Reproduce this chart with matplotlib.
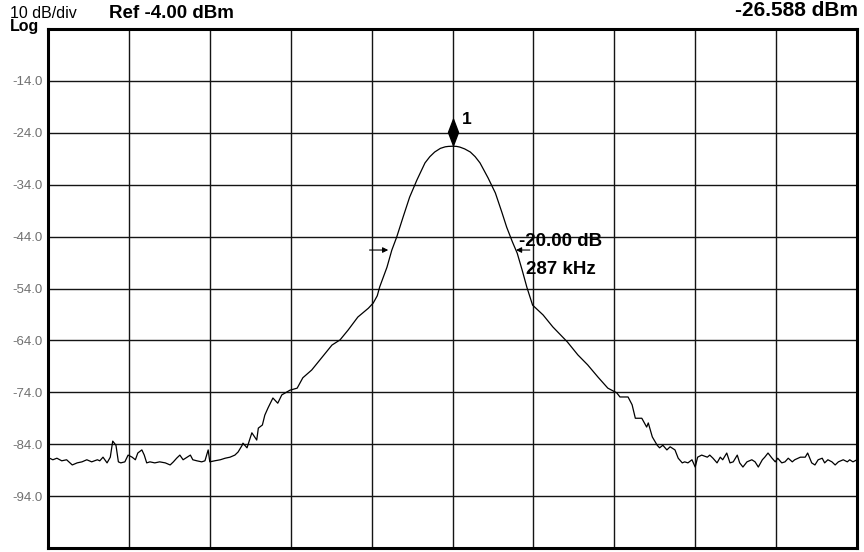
import matplotlib
matplotlib.use("Agg")
import matplotlib.pyplot as plt
import numpy as np

plt.rcParams['font.family'] = ['Liberation Sans', 'DejaVu Sans']

# trace, x in divisions (0..10), y in dBm
freq_div = [
    0.00, 0.02, 0.06, 0.11, 0.17, 0.23, 0.30, 0.36, 0.42, 0.48, 0.54, 0.61, 0.64, 0.68,
    0.73, 0.77, 0.80, 0.84, 0.87, 0.90, 0.95, 0.99, 1.04, 1.08, 1.11, 1.16, 1.19, 1.22,
    1.26, 1.32, 1.38, 1.45, 1.51, 1.55, 1.59, 1.63, 1.67, 1.72, 1.76, 1.79, 1.84, 1.90,
    1.94, 1.98, 2.00, 2.06, 2.13, 2.19, 2.25, 2.31, 2.35, 2.40, 2.41, 2.46, 2.52, 2.58,
    2.60, 2.65, 2.68, 2.72, 2.78, 2.84, 2.89, 2.99, 3.08, 3.15, 3.26, 3.39, 3.51, 3.61,
    3.71, 3.83, 3.96, 4.02, 4.07, 4.10, 4.19, 4.25, 4.31, 4.39, 4.47, 4.56, 4.66, 4.72,
    4.78, 4.85, 4.91, 4.95, 5.00, 5.05, 5.09, 5.15, 5.22, 5.28, 5.34, 5.44, 5.53, 5.61,
    5.67, 5.74, 5.80, 5.86, 5.92, 5.99,
    6.12, 6.24, 6.42, 6.55, 6.67, 6.80, 6.92, 7.03, 7.07, 7.17, 7.22, 7.26, 7.34, 7.40,
    7.42, 7.47, 7.53, 7.56, 7.60, 7.65, 7.69, 7.75, 7.79, 7.84, 7.87, 7.91, 7.96, 8.00,
    8.03, 8.08, 8.15, 8.18, 8.22, 8.27, 8.31, 8.34, 8.39, 8.43, 8.47, 8.52, 8.55, 8.59,
    8.64, 8.70, 8.74, 8.78, 8.83, 8.86, 8.90, 8.95, 8.99, 9.02, 9.07, 9.11, 9.15, 9.20,
    9.23, 9.30, 9.36, 9.39, 9.44, 9.48, 9.52, 9.57, 9.60, 9.64, 9.69, 9.73, 9.77, 9.83,
    9.88, 9.91, 9.95, 10.00,
]
level_dbm = [
    -86.9, -86.7, -87.0, -86.7, -87.2, -87.0, -88.0, -87.6, -87.4, -87.0, -87.4, -87.0, -87.2, -86.5,
    -87.6, -86.5, -83.4, -84.2, -87.4, -87.6, -87.4, -86.1, -86.5, -87.0, -85.7, -85.1, -86.1, -87.6,
    -87.4, -87.6, -87.4, -87.6, -88.0, -87.4, -86.7, -86.1, -87.0, -86.5, -86.1, -87.0, -87.2, -87.4,
    -87.2, -85.1, -87.4, -87.2, -87.0, -86.7, -86.5, -86.1, -85.5, -84.2, -83.8, -84.7, -81.8, -83.2,
    -80.9, -80.3, -78.4, -77.0, -75.1, -76.1, -74.5, -73.6, -73.2, -71.2, -69.7, -67.2, -64.9, -63.9,
    -62.0, -59.5, -57.8, -56.8, -55.4, -53.7, -49.9, -46.6, -44.1, -40.2, -36.4, -33.1, -29.8, -28.6,
    -27.7, -27.0, -26.7, -26.62, -26.59, -26.62, -26.75, -27.1, -27.7, -28.6, -29.8, -32.7, -35.6, -39.3,
    -42.2, -45.0, -47.2, -50.4, -53.8, -57.2,
    -59.1, -61.4, -64.3, -66.8, -68.7, -71.1, -73.2, -74.1, -74.9, -74.9, -76.4, -79.0, -79.0, -80.7,
    -79.9, -82.6, -84.2, -84.7, -84.2, -85.1, -84.5, -85.1, -86.7, -87.6, -87.4, -87.6, -87.0, -88.4,
    -86.5, -86.1, -86.5, -86.1, -86.7, -87.6, -86.5, -87.0, -85.7, -87.6, -87.4, -86.1, -87.6, -88.4,
    -87.4, -87.0, -87.4, -88.4, -87.0, -86.5, -85.7, -86.7, -87.4, -86.7, -87.6, -87.4, -86.7, -87.4,
    -87.0, -86.5, -86.5, -85.7, -87.6, -88.0, -87.0, -86.7, -87.6, -87.0, -87.4, -88.0, -87.4, -87.0,
    -87.4, -87.0, -87.4, -87.0,
]

ref_level = -4.0
db_per_div = 10
n_div = 10
tick_levels = [-14.0, -24.0, -34.0, -44.0, -54.0, -64.0, -74.0, -84.0, -94.0]

peak_div = 5.0
peak_dbm = -26.588
ndb_drop = 20.00
ndb_bw_text = "287 kHz"
ndb_left_div = 4.24
ndb_right_div = 5.75

fig = plt.figure(figsize=(8.64, 5.52), dpi=100)
ax = fig.add_axes([48 / 864, 4 / 552, 809 / 864, 519 / 552])

bottom = ref_level - db_per_div * n_div
ax.set_xlim(0, n_div)
ax.set_ylim(bottom, ref_level)

# graticule
for i in range(1, n_div):
    ax.axvline(i, color='#141414', lw=1.0, zorder=1)
for v in tick_levels:
    ax.axhline(v, color='#141414', lw=1.0, zorder=1)

ax.plot(freq_div, level_dbm, color='black', lw=0.9, zorder=3)

# marker 1 (tall diamond sitting on the peak)
diamond = [(0, -1), (0.38, 0), (0, 1), (-0.38, 0), (0, -1)]
ax.plot([peak_div], [peak_dbm + 2.7], marker=diamond, markersize=19,
        color='black', zorder=4, clip_on=False)
ax.text(peak_div + 0.11, peak_dbm + 5.2, "1", fontsize=12.5, fontweight='bold',
        va='center', ha='left')

# -20 dB bandwidth arrows
ndb_level = peak_dbm - ndb_drop
ax.annotate("", xy=(ndb_left_div, ndb_level), xytext=(ndb_left_div - 0.30, ndb_level),
            arrowprops=dict(arrowstyle='-|>', color='black', lw=0.8, mutation_scale=8))
ax.annotate("", xy=(ndb_right_div, ndb_level), xytext=(ndb_right_div + 0.24, ndb_level),
            arrowprops=dict(arrowstyle='-|>', color='black', lw=0.8, mutation_scale=8))
ax.text(5.82, ndb_level + 1.6, f"-{ndb_drop:.2f} dB", fontsize=13.5, fontweight='bold',
        va='center', ha='left')
ax.text(5.91, ndb_level - 3.8, ndb_bw_text, fontsize=13.5, fontweight='bold',
        va='center', ha='left')

ax.set_xticks([])
ax.set_yticks(tick_levels)
ax.set_yticklabels([f"{v:.1f}" for v in tick_levels], fontsize=9.5, color='#707070')
ax.tick_params(axis='y', length=0, pad=4)
for s in ax.spines.values():
    s.set_linewidth(2.2)
    s.set_color('black')

fig.text(10 / 864, 1 - 13 / 552, f"{db_per_div} dB/div", fontsize=11.5, va='center', ha='left')
fig.text(10 / 864, 1 - 27 / 552, "Log", fontsize=11.5, fontweight='bold', va='center', ha='left')
fig.text(109 / 864, 1 - 13 / 552, f"Ref {ref_level:.2f} dBm", fontsize=13.5,
         fontweight='bold', va='center', ha='left')
fig.text(858 / 864, 1 - 11 / 552, f"{peak_dbm:.3f} dBm", fontsize=15,
         fontweight='bold', va='center', ha='right')

fig.savefig("out.png", dpi=100)
